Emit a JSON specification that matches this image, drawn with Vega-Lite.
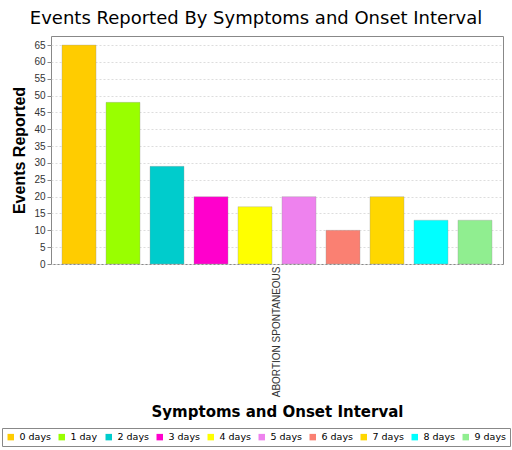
{
  "$schema": "https://vega.github.io/schema/vega-lite/v6.json",
  "autosize": "none",
  "width": 452,
  "height": 228,
  "padding": {"left": 51, "top": 36, "right": 9, "bottom": 186},
  "background": "white",
  "title": {
    "text": "Events Reported By Symptoms and Onset Interval",
    "anchor": "middle",
    "frame": "group",
    "dx": -21,
    "offset": 8,
    "font": "DejaVu Sans",
    "fontSize": 18,
    "fontWeight": "normal",
    "color": "black"
  },
  "config": {
    "view": {"stroke": "#888888", "strokeWidth": 1},
    "axis": {"labelFont": "Liberation Sans", "labelFontSize": 10, "labelColor": "#333", "titleColor": "black"}
  },
  "data": {
    "values": [
      {"symptom": "ABORTION SPONTANEOUS", "interval": "0 days", "count": 65},
      {"symptom": "ABORTION SPONTANEOUS", "interval": "1 day", "count": 48},
      {"symptom": "ABORTION SPONTANEOUS", "interval": "2 days", "count": 29},
      {"symptom": "ABORTION SPONTANEOUS", "interval": "3 days", "count": 20},
      {"symptom": "ABORTION SPONTANEOUS", "interval": "4 days", "count": 17},
      {"symptom": "ABORTION SPONTANEOUS", "interval": "5 days", "count": 20},
      {"symptom": "ABORTION SPONTANEOUS", "interval": "6 days", "count": 10},
      {"symptom": "ABORTION SPONTANEOUS", "interval": "7 days", "count": 20},
      {"symptom": "ABORTION SPONTANEOUS", "interval": "8 days", "count": 13},
      {"symptom": "ABORTION SPONTANEOUS", "interval": "9 days", "count": 13}
    ]
  },
  "mark": {"type": "bar", "stroke": "#999999", "strokeWidth": 0.6, "strokeOpacity": 0.6},
  "encoding": {
    "x": {
      "field": "symptom",
      "type": "nominal",
      "scale": {"paddingInner": 0, "paddingOuter": 0.0256},
      "axis": {
        "title": "Symptoms and Onset Interval",
        "titleFont": "DejaVu Sans",
        "titleFontSize": 15,
        "titleFontWeight": "bold",
        "titlePadding": 8,
        "labelAngle": 270,
        "labelAlign": "right",
        "labelBaseline": "middle",
        "labelPadding": 2,
        "ticks": false,
        "domain": false
      }
    },
    "xOffset": {
      "field": "interval",
      "type": "nominal",
      "scale": {"paddingInner": 0.227, "paddingOuter": 0}
    },
    "y": {
      "field": "count",
      "type": "quantitative",
      "scale": {"domain": [0, 67.7], "nice": false},
      "axis": {
        "title": "Events Reported",
        "titleFont": "Liberation Sans",
        "titleFontSize": 16,
        "titleFontWeight": "bold",
        "titlePadding": 6,
        "values": [0,5,10,15,20,25,30,35,40,45,50,55,60,65],
        "grid": true,
        "gridColor": "#dddddd",
        "gridDash": [2, 2],
        "domain": false,
        "tickColor": "#888888",
        "tickSize": 4,
        "labelPadding": 2
      }
    },
    "color": {
      "field": "interval",
      "type": "nominal",
      "scale": {
        "domain": ["0 days","1 day","2 days","3 days","4 days","5 days","6 days","7 days","8 days","9 days"],
        "range": ["#FFCC00","#99FF00","#00CCCC","#FF00CC","#FFFF00","#EE82EE","#FA8072","#FFD700","#00FFFF","#90EE90"]
      },
      "legend": {
        "title": null,
        "orient": "none",
        "legendX": -49,
        "legendY": 392,
        "direction": "horizontal",
        "columns": 10,
        "symbolType": "square",
        "symbolSize": 42,
        "symbolStrokeWidth": 0,
        "symbolOffset": 0,
        "labelFont": "DejaVu Sans",
        "labelFontSize": 9.5,
        "labelColor": "black",
        "labelOffset": 4,
        "columnPadding": 6,
        "padding": 4,
        "strokeColor": "#888888",
        "fillColor": "white"
      }
    }
  }
}
